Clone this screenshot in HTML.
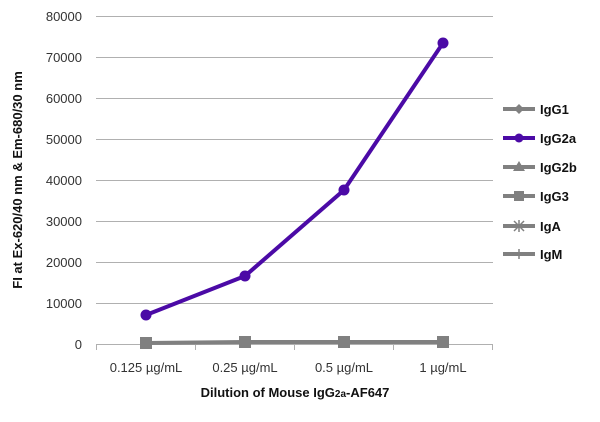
<!DOCTYPE html>
<html><head><meta charset="utf-8"><style>body{margin:0;background:#fff}</style></head><body>
<svg width="600" height="417" xmlns="http://www.w3.org/2000/svg" font-family="Liberation Sans, sans-serif">
<g stroke="#b0b0b0" stroke-width="1">
<line x1="96" y1="16.5" x2="493" y2="16.5"/><line x1="96" y1="57.5" x2="493" y2="57.5"/>
<line x1="96" y1="98.5" x2="493" y2="98.5"/><line x1="96" y1="139.5" x2="493" y2="139.5"/>
<line x1="96" y1="180.5" x2="493" y2="180.5"/><line x1="96" y1="221.5" x2="493" y2="221.5"/>
<line x1="96" y1="262.5" x2="493" y2="262.5"/><line x1="96" y1="303.5" x2="493" y2="303.5"/>
<line x1="96" y1="344.5" x2="493" y2="344.5"/>
<line x1="96.5" y1="344" x2="96.5" y2="350"/><line x1="195.5" y1="344" x2="195.5" y2="350"/>
<line x1="294.5" y1="344" x2="294.5" y2="350"/><line x1="393.5" y1="344" x2="393.5" y2="350"/>
<line x1="492.5" y1="344" x2="492.5" y2="350"/>
</g>
<g font-size="13" fill="#333" text-anchor="end">
<text x="82" y="21">80000</text><text x="82" y="62">70000</text><text x="82" y="103">60000</text>
<text x="82" y="144">50000</text><text x="82" y="185">40000</text><text x="82" y="226">30000</text>
<text x="82" y="267">20000</text><text x="82" y="308">10000</text><text x="82" y="349">0</text>
</g>
<g font-size="13" fill="#333" text-anchor="middle">
<text x="146" y="372">0.125 µg/mL</text><text x="245" y="372">0.25 µg/mL</text>
<text x="344" y="372">0.5 µg/mL</text><text x="443" y="372">1 µg/mL</text>
</g>
<text x="295" y="397" font-size="13" font-weight="bold" text-anchor="middle" fill="#111">Dilution of Mouse IgG<tspan font-size="10">2a</tspan>-AF647</text>
<text transform="translate(22,180) rotate(-90)" font-size="13" font-weight="bold" text-anchor="middle" fill="#111">FI at Ex-620/40 nm &amp; Em-680/30 nm</text>
<polyline points="146,343 245,342 344,342 443,342" fill="none" stroke="#808080" stroke-width="4"/>
<g fill="#808080">
<rect x="140" y="337" width="12" height="12"/><rect x="239" y="336" width="12" height="12"/>
<rect x="338" y="336" width="12" height="12"/><rect x="437" y="336" width="12" height="12"/>
</g>
<polyline points="146,315 245,276 344,190 443,43" fill="none" stroke="#4b0aa6" stroke-width="4"/>
<g fill="#4b0aa6">
<circle cx="146" cy="315" r="5.5"/><circle cx="245" cy="276" r="5.5"/>
<circle cx="344" cy="190" r="5.5"/><circle cx="443" cy="43" r="5.5"/>
</g>
<g stroke="#808080" stroke-width="4">
<line x1="503" y1="109" x2="535" y2="109"/><line x1="503" y1="167" x2="535" y2="167"/>
<line x1="503" y1="196" x2="535" y2="196"/><line x1="503" y1="226" x2="535" y2="226"/>
<line x1="503" y1="254" x2="535" y2="254"/>
</g>
<line x1="503" y1="138" x2="535" y2="138" stroke="#4b0aa6" stroke-width="4"/>
<circle cx="519" cy="138" r="4.5" fill="#4b0aa6"/>
<path d="M519,104 L524,109 L519,114 L514,109Z" fill="#808080"/>
<path d="M519,161 L525,171 L513,171Z" fill="#808080"/>
<rect x="514" y="191" width="10" height="10" fill="#808080"/>
<g stroke="#808080" stroke-width="1.5"><line x1="514" y1="221" x2="524" y2="231"/><line x1="524" y1="221" x2="514" y2="231"/><line x1="519" y1="220" x2="519" y2="232"/><line x1="519" y1="249" x2="519" y2="259"/></g>
<g font-size="13" font-weight="bold" fill="#111">
<text x="540" y="114">IgG1</text><text x="540" y="143">IgG2a</text><text x="540" y="172">IgG2b</text>
<text x="540" y="201">IgG3</text><text x="540" y="231">IgA</text><text x="540" y="259">IgM</text>
</g>
</svg>
</body></html>
